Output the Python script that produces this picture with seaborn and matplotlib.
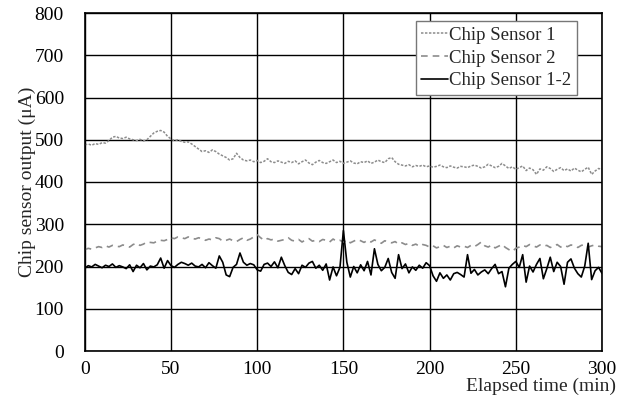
import matplotlib
matplotlib.use("Agg")
from matplotlib import pyplot as plt
import numpy as np
import pandas as pd
import seaborn as sns

# elapsed time (min), one reading every 2 min
time_min = np.arange(0, 301, 2)

sensor_1 = [
    488, 490, 487, 491, 489, 493, 492, 498, 506, 508,
    504, 503, 506, 502, 500, 498, 501, 497, 500, 508,
    516, 520, 522, 518, 508, 502, 498, 500, 496, 494,
    495, 490, 484, 478, 472, 474, 470, 476, 472, 466,
    462, 458, 452, 455, 468, 458, 452, 450, 452, 448,
    451, 446, 449, 455, 448, 446, 450, 447, 444, 449,
    446, 450, 443, 448, 452, 445, 441, 447, 451, 446,
    444, 448, 452, 446, 449, 444, 447, 450, 445, 443,
    448, 446, 450, 444, 447, 452, 448, 446, 455, 458,
    448, 442, 440, 438, 441, 436, 439, 437, 440, 436,
    438, 435, 437, 440, 436, 434, 438, 435, 433, 437,
    436, 434, 438, 440, 437, 433, 436, 442, 438, 434,
    437, 444, 438, 432, 436, 430, 434, 438, 427, 433,
    429, 418, 431, 428, 436, 432, 425, 430, 434, 427,
    431, 426, 433, 428, 424, 430, 435, 418, 426, 432,
    430,
]

sensor_2 = [
    240, 243, 241, 244, 247, 245, 249, 246, 250, 248,
    247, 251, 249, 246, 252, 255, 250, 253, 258, 257,
    256, 260, 262, 261, 264, 268, 266, 270, 268, 266,
    270, 267, 265, 268, 266, 262, 265, 263, 268, 266,
    260, 262, 265, 261, 259, 264, 268, 262, 265, 270,
    275, 268, 262, 266, 263, 265, 260, 262, 264, 268,
    262, 260, 264, 258, 263, 266, 260, 262, 259, 264,
    262, 258, 265, 260, 262, 258, 263, 256, 260, 264,
    261, 257, 262, 258, 263, 259, 255, 261, 258, 256,
    259, 253, 256, 252, 255, 250, 253, 248, 252, 250,
    246, 249, 244, 247, 250, 245, 248, 244, 249, 246,
    248, 245, 250, 247, 252, 258, 249, 246, 251, 244,
    248, 252, 245, 240, 236, 243, 246, 250, 247, 252,
    249, 246, 251, 248, 250, 245, 248, 252, 246, 250,
    247, 251, 249, 245, 250, 252, 246, 249, 251, 248,
    247,
]

sensor_1_2 = [
    196, 202, 199, 205, 201, 197, 203, 200, 206, 198,
    202, 199, 195, 204, 188, 203, 197, 207, 192, 201,
    199, 204, 220, 196, 214, 202, 198, 205, 210, 207,
    203, 208, 201, 199, 205, 197, 209, 202, 196, 225,
    210, 180, 176, 198, 205, 232, 210, 203, 207, 204,
    192, 189, 205, 208, 200, 211, 197, 222, 202, 186,
    181, 195, 183, 203, 198, 208, 212, 196, 203, 191,
    206, 168, 199, 178, 198, 285, 210, 175, 200, 185,
    204, 190, 212, 180, 242, 205, 190, 198, 219, 186,
    172, 228, 195, 206, 185, 199, 191, 203, 196, 209,
    202, 178, 165, 185, 172, 180, 168, 183, 186, 181,
    175, 228, 184, 193, 180, 187, 192, 183, 195, 205,
    183, 188, 152, 196, 205, 212, 198, 228, 163, 201,
    187, 205, 219, 171, 195, 222, 188, 210, 200, 158,
    210, 218, 196, 183, 175, 201, 255, 169, 190, 198,
    184,
]

df = pd.DataFrame({
    "time": time_min,
    "Chip Sensor 1": sensor_1,
    "Chip Sensor 2": sensor_2,
    "Chip Sensor 1-2": sensor_1_2,
})

sns.set_style("white")
plt.rcParams["font.family"] = ["Liberation Serif", "DejaVu Serif"]

fig = plt.figure(figsize=(6.33, 4.0), dpi=100)
ax = fig.add_axes([0.134, 0.1225, 0.817, 0.845])

# styles for each series
styles = {
    "Chip Sensor 1": dict(color="#8c8c8c", dashes=(1.6, 1.0), lw=1.1),
    "Chip Sensor 2": dict(color="#8c8c8c", dashes=(4.0, 3.0), lw=1.2),
    "Chip Sensor 1-2": dict(color="black", dashes=None, lw=1.2),
}
for name, st in styles.items():
    sns.lineplot(data=df, x="time", y=name, ax=ax, color=st["color"],
                 linewidth=st["lw"], label=name)
    if st["dashes"] is not None:
        ax.lines[-1].set_dashes(st["dashes"])

ax.set_xlim(0, 300)
ax.set_ylim(0, 800)
ax.set_xticks(range(0, 301, 50))
ax.set_yticks(range(0, 801, 100))
ax.grid(True, color="black", linewidth=1.0)
ax.set_axisbelow(True)
for sp in ax.spines.values():
    sp.set_color("black")
    sp.set_linewidth(1.2)
ax.tick_params(axis="both", length=0, labelsize=14, colors="black")
ax.tick_params(axis="x", pad=7)
ax.tick_params(axis="y", pad=15)

ax.set_xlabel("Elapsed time (min)", fontsize=14, loc="right")
ax.xaxis.set_label_coords(1.027, -0.08)
ax.set_ylabel("Chip sensor output (μA)", fontsize=14)
ax.yaxis.set_label_coords(-0.095, 0.5)

leg = ax.legend(loc="upper right", bbox_to_anchor=(0.952, 0.976), fontsize=13.5,
                frameon=True, fancybox=False, framealpha=1, edgecolor="#777777",
                handlelength=1.4, handletextpad=0.1, borderpad=0.3,
                labelspacing=0.3, borderaxespad=0.0)
leg.get_frame().set_linewidth(1.0)

fig.savefig("out.png", dpi=100)
